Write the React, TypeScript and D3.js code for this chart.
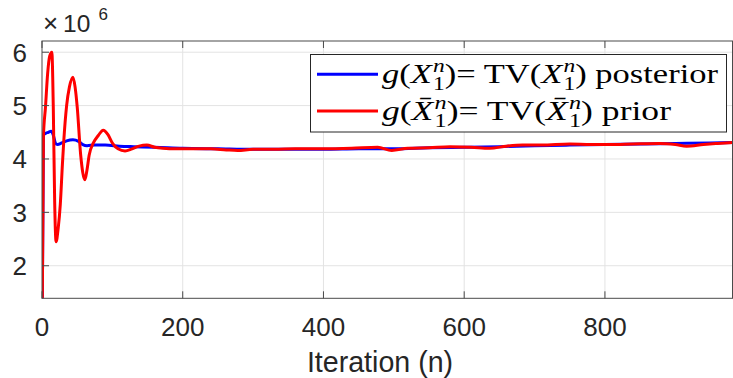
import React, { useEffect, useRef } from 'react';
import * as d3 from 'd3';

const width = 733;
const height = 378;
const plot = { left: 42, right: 733, top: 41, bottom: 298.3 };

// prior curve, g(X̄) — red
const priorIter = [0, 2, 5, 8, 11, 14, 16, 18, 20, 23, 26, 29, 31, 35, 39, 44, 47, 50, 55, 61, 64, 67, 73, 80, 87, 94, 100, 108, 118, 128, 138, 149, 160, 172, 190, 210, 240, 262, 278, 300, 330, 360, 400, 440, 477, 497, 520, 550, 580, 610, 636, 660, 683, 710, 750, 780, 807, 840, 878, 900, 916, 940, 960, 982];
const priorValue = [0.4, 4.4, 4.98, 5.6, 5.93, 6.0, 5.0, 3.2, 2.45, 2.7, 3.15, 3.9, 4.35, 5.0, 5.35, 5.53, 5.35, 4.98, 4.07, 3.61, 3.8, 4.07, 4.3, 4.44, 4.54, 4.45, 4.3, 4.19, 4.15, 4.19, 4.24, 4.26, 4.22, 4.2, 4.19, 4.19, 4.19, 4.17, 4.16, 4.18, 4.18, 4.19, 4.19, 4.2, 4.22, 4.16, 4.2, 4.21, 4.23, 4.22, 4.2, 4.24, 4.26, 4.26, 4.28, 4.27, 4.27, 4.28, 4.29, 4.27, 4.24, 4.27, 4.29, 4.31];

// posterior curve, g(X) — blue
const postIter = [0, 2, 5, 9, 13, 16, 19, 22, 28, 35, 44, 52, 58, 64, 75, 90, 110, 130, 160, 200, 250, 300, 350, 400, 450, 500, 550, 600, 650, 700, 750, 800, 850, 900, 950, 982];
const postValue = [0.4, 4.45, 4.48, 4.5, 4.52, 4.45, 4.3, 4.27, 4.3, 4.34, 4.36, 4.33, 4.27, 4.25, 4.26, 4.26, 4.24, 4.23, 4.22, 4.2, 4.19, 4.18, 4.18, 4.18, 4.19, 4.19, 4.21, 4.22, 4.23, 4.25, 4.26, 4.27, 4.28, 4.29, 4.3, 4.31];

const xTicks = [0, 200, 400, 600, 800];
const yTicks = [2, 3, 4, 5, 6];
const legendWords = ['posterior', 'prior'];
const legendColors = ['#0000ff', '#ff0000'];
const legendWidths = [336, 289];

const App = () => {
  const svgRef = useRef(null);

  useEffect(() => {
    const svg = d3.select(svgRef.current);
    svg.selectAll('*').remove();

    const x = d3.scaleLinear().domain([0, 982]).range([plot.left, plot.right]);
    const y = d3.scaleLinear().domain([1.39, 6.21]).range([plot.bottom, plot.top]);

    svg.append('rect').attr('width', width).attr('height', height).attr('fill', '#fff');

    svg.append('clipPath').attr('id', 'plotclip')
      .append('rect')
      .attr('x', plot.left).attr('y', plot.top)
      .attr('width', plot.right - plot.left).attr('height', plot.bottom - plot.top);

    // grid
    const grid = svg.append('g').attr('stroke', '#e3e3e3').attr('stroke-width', 1);
    xTicks.slice(1).forEach(t => {
      grid.append('line').attr('x1', x(t)).attr('x2', x(t)).attr('y1', plot.top).attr('y2', plot.bottom);
    });
    yTicks.forEach(t => {
      grid.append('line').attr('x1', plot.left).attr('x2', plot.right).attr('y1', y(t)).attr('y2', y(t));
    });

    // lines
    const line = d3.line().curve(d3.curveMonotoneX);
    const lines = svg.append('g').attr('clip-path', 'url(#plotclip)').attr('fill', 'none').attr('stroke-width', 3).attr('stroke-linejoin', 'round');
    lines.append('path')
      .attr('stroke', '#0000ff')
      .attr('d', line(postIter.map((n, i) => [x(n), y(postValue[i])])));
    lines.append('path')
      .attr('stroke', '#ff0000')
      .attr('d', line(priorIter.map((n, i) => [x(n), y(priorValue[i])])));

    // box and ticks
    const axis = svg.append('g').attr('stroke', '#4a4a4a').attr('stroke-width', 1).attr('fill', 'none');
    axis.append('rect')
      .attr('x', plot.left).attr('y', plot.top)
      .attr('width', plot.right - 0.5 - plot.left).attr('height', plot.bottom - plot.top);
    xTicks.forEach(t => {
      axis.append('line').attr('x1', x(t)).attr('x2', x(t)).attr('y1', plot.bottom).attr('y2', plot.bottom - 7);
      axis.append('line').attr('x1', x(t)).attr('x2', x(t)).attr('y1', plot.top).attr('y2', plot.top + 7);
    });
    yTicks.forEach(t => {
      axis.append('line').attr('x1', plot.left).attr('x2', plot.left + 7).attr('y1', y(t)).attr('y2', y(t));
    });

    const labels = svg.append('g').attr('font-family', 'Liberation Sans, Arial, sans-serif').attr('fill', '#262626');
    labels.selectAll('.xt').data(xTicks).enter().append('text')
      .attr('x', d => x(d)).attr('y', 336)
      .attr('text-anchor', 'middle').attr('font-size', 26)
      .text(d => d);
    labels.selectAll('.yt').data(yTicks).enter().append('text')
      .attr('x', 27).attr('y', d => y(d) + 9.5)
      .attr('text-anchor', 'end').attr('font-size', 26)
      .text(d => d);

    // exponent label: ×10^6
    labels.append('text').attr('x', 43).attr('y', 32).attr('font-size', 26).text('\u00d7');
    labels.append('text').attr('x', 63).attr('y', 32.3).attr('font-size', 24.5).text('10');
    labels.append('text').attr('x', 98.5).attr('y', 20).attr('font-size', 17).text('6');

    labels.append('text')
      .attr('x', 380).attr('y', 372)
      .attr('text-anchor', 'middle').attr('font-size', 28.6)
      .text('Iteration (n)');

    // legend
    const legend = svg.append('g');
    legend.append('rect')
      .attr('x', 310.5).attr('y', 54.5).attr('width', 416).attr('height', 77.5)
      .attr('fill', '#fff').attr('stroke', '#262626').attr('stroke-width', 1);

    legendWords.forEach((word, i) => {
      const ly = 74.3 + i * 36.7;
      legend.append('line')
        .attr('x1', 317).attr('x2', 378).attr('y1', ly).attr('y2', ly)
        .attr('stroke', legendColors[i]).attr('stroke-width', 3);
      const X = i === 1 ? 'X\u0304' : 'X';
      const t = legend.append('text')
        .attr('x', 382).attr('y', ly + 8.5)
        .attr('textLength', legendWidths[i]).attr('lengthAdjust', 'spacingAndGlyphs')
        .attr('font-family', 'Liberation Serif, serif').attr('font-size', 28).attr('fill', '#000');
      t.append('tspan').attr('font-style', 'italic').text('g');
      t.append('tspan').text('(');
      t.append('tspan').attr('font-style', 'italic').text(X);
      t.append('tspan').attr('font-style', 'italic').attr('font-size', 19).attr('dx', 1).attr('dy', -11).text('n');
      t.append('tspan').attr('font-size', 19).attr('dx', -9.5).attr('dy', 18).text('1');
      t.append('tspan').attr('dy', -7).text(')= TV(');
      t.append('tspan').attr('font-style', 'italic').text(X);
      t.append('tspan').attr('font-style', 'italic').attr('font-size', 19).attr('dx', 1).attr('dy', -11).text('n');
      t.append('tspan').attr('font-size', 19).attr('dx', -9.5).attr('dy', 18).text('1');
      t.append('tspan').attr('dy', -7).text(') ' + word);
    });
  }, []);

  return (
    <svg ref={svgRef} width={width} height={height}
      style={{ position: 'absolute', left: 0, top: 0, display: 'block' }} />
  );
};

export default App;
